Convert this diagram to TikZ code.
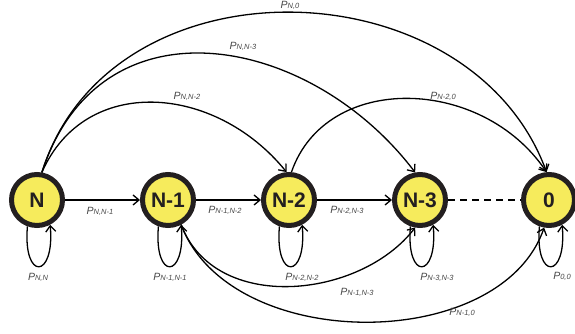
\documentclass[tikz,border=0pt]{standalone}
\usepackage{fontspec}
\setmainfont{Liberation Sans}
\usetikzlibrary{arrows.meta}
\definecolor{state-fill}{HTML}{F6EB5C}
\definecolor{state-ink}{HTML}{231F20}
\newcommand{\prob}[1]{\textit{P}{\fontsize{7.5}{8}\selectfont\textit{#1}}}

\begin{document}
\begin{tikzpicture}[
    x=1pt, y=1pt,
    font=\fontsize{10.5}{12}\selectfont,
    >={Straight Barb[length=6pt,width=10pt]},
    state/.style={circle, draw=state-ink, fill=state-fill, line width=5pt, minimum size=51pt, inner sep=0pt, font=\fontsize{21}{22}\selectfont\bfseries, text=state-ink},
    trans/.style={->, line width=1.3pt, draw=black},
    lbl/.style={text=black!72, inner sep=0pt}
]
\useasboundingbox (0,0) rectangle (575,334);

% states
\node[state] (sN)  at (37,134)  {N};
\node[state] (sN1) at (168,134) {N-1};
\node[state] (sN2) at (289,134) {N-2};
\node[state] (sN3) at (420,134) {N-3};
\node[state] (s0)  at (549,134) {0};

% one-step transitions
\draw[trans] (sN) -- (sN1);
\draw[trans] (sN1) -- (sN2);
\draw[trans] (sN2) -- (sN3);
\draw[line width=1.3pt, dash pattern=on 7pt off 5pt] (sN3) -- (s0);

% self loops
\foreach \s in {sN,sN1,sN2,sN3,s0} {
    \draw[trans] (\s.-110) .. controls +(-95:55) and +(-85:55) .. (\s.-62);
}

% jumps over the top
\draw[trans] (sN.80) .. controls (110,380) and (470,370) .. (s0.95);
\draw[trans] (sN.80) .. controls (100,340) and (310,300) .. (sN3.100);
\draw[trans] (sN.80) .. controls (85,260) and (215,250) .. (sN2.95);
\draw[trans] (sN2.85) .. controls (326,262) and (482,258) .. (s0.95);

% jumps underneath
\draw[trans] (sN1.-62) .. controls (215,20) and (360,35) .. (sN3.-100);
\draw[trans] (sN1.-62) .. controls (230,-20) and (500,-20) .. (s0.-100);

% probabilities
\node[lbl] (pNN1)   at (100,123) {\prob{N,N-1}};
\node[lbl] (pN1N2)  at (225,124) {\prob{N-1,N-2}};
\node[lbl] (pN2N3)  at (347,124) {\prob{N-2,N-3}};
\node[lbl] (pNN)    at (38,57)   {\prob{N,N}};
\node[lbl] (pN1N1)  at (170,57)  {\prob{N-1,N-1}};
\node[lbl] (pN2N2)  at (302,57)  {\prob{N-2,N-2}};
\node[lbl] (pN3N3)  at (437,57)  {\prob{N-3,N-3}};
\node[lbl] (p00)    at (562,58)  {\prob{0,0}};
\node[lbl] (pN0)    at (290,329) {\prob{N,0}};
\node[lbl] (pNN3)   at (243,288) {\prob{N,N-3}};
\node[lbl] (pNN2)   at (187,238) {\prob{N,N-2}};
\node[lbl] (pN20)   at (443,238) {\prob{N-2,0}};
\node[lbl] (pN1N3)  at (357,42)  {\prob{N-1,N-3}};
\node[lbl] (pN10)   at (462,22)  {\prob{N-1,0}};
\end{tikzpicture}
\end{document}
